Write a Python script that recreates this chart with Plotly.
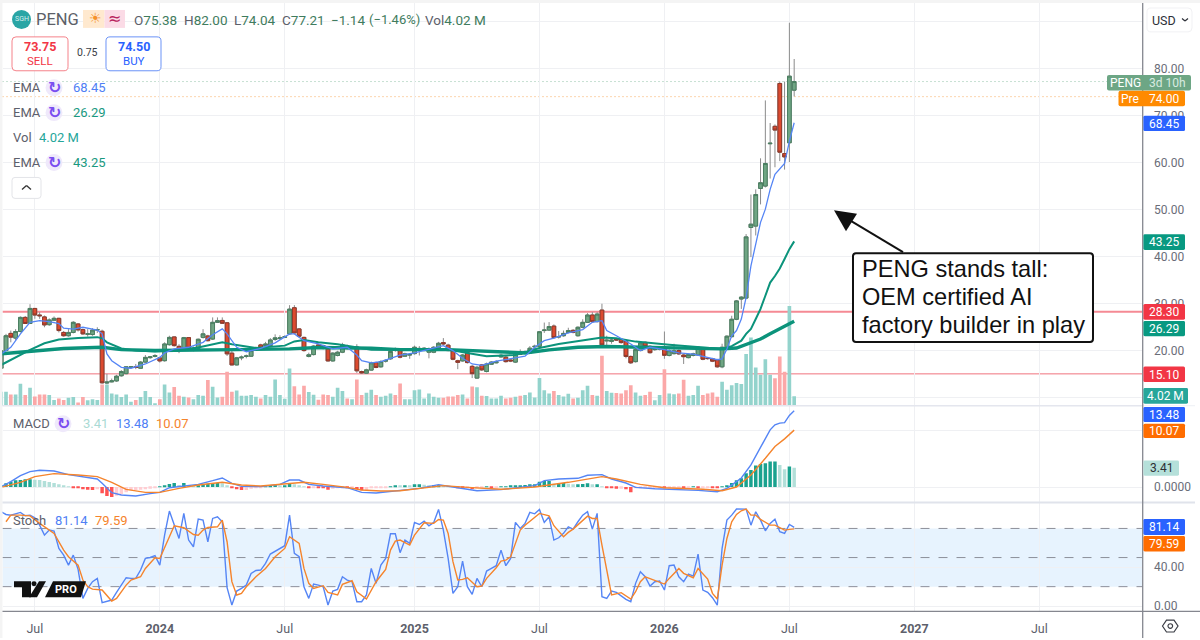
import pandas as pd
import plotly.graph_objects as go

# Weekly candles for PENG, oldest first.
OPEN = [16.3, 20.05, 23.7, 22.7, 24.1, 27.1, 25.8, 29.0, 27.6, 27.2,
        25.55, 26.5, 26.9, 23.9, 23.2, 23.9, 25.7, 24.5, 23.5, 23.45,
        24.4, 24.15, 13.15, 13.4, 13.6, 14.7, 15.15, 16.45, 16.6, 16.3,
        17.6, 18.55, 18.8, 18.5, 17.9, 21.3, 22.95, 20.95, 20.25, 22.8,
        20.25, 20.55, 22.85, 23.15, 22.5, 26.05, 26.45, 25.95, 19.5, 17.0,
        18.5, 18.8, 18.85, 20.5, 21.25, 21.1, 21.1, 22.4, 22.6, 22.85,
        23.6, 29.15, 24.65, 22.85, 18.8, 19.2, 21.25, 21.1, 20.4, 17.85,
        19.0, 19.7, 20.95, 20.7, 20.8, 15.6, 15.25, 15.9, 17.5, 16.6,
        17.8, 18.3, 20.2, 20.05, 18.85, 19.1, 19.4, 20.35, 20.1, 19.7,
        19.7, 20.6, 21.75, 21.2, 20.05, 17.9, 17.85, 19.6, 16.7, 14.2,
        17.0, 15.6, 17.15, 17.45, 18.7, 18.65, 18.05, 17.6, 19.85, 19.7,
        19.55, 20.85, 20.95, 24.3, 24.4, 25.25, 22.95, 23.2, 23.9, 24.35,
        23.2, 25.0, 26.05, 27.6, 26.2, 28.65, 22.1, 22.0, 22.5, 22.4,
        22.0, 18.8, 17.7, 20.05, 21.8, 20.95, 20.25, 20.35, 20.55, 19.0,
        19.4, 20.05, 19.1, 18.55, 19.0, 19.1, 20.4, 18.4, 18.3, 18.05,
        16.6, 20.6, 23.0, 26.7, 31.0, 31.2, 46.2, 46.5, 54.5, 55.0,
        64.0, 67.7, 76.8, 61.9, 64.2, 75.38]
HIGH = [20.4, 23.6, 24.3, 24.6, 27.3, 27.4, 29.9, 29.1, 28.2, 27.5,
        26.9, 27.3, 27.0, 24.2, 24.6, 26.3, 25.9, 24.7, 24.6, 24.8,
        25.0, 24.5, 15.1, 14.1, 14.9, 15.9, 16.7, 16.7, 17.2, 17.8,
        19.1, 18.9, 19.3, 18.7, 21.8, 23.2, 23.0, 21.4, 22.95, 22.9,
        20.9, 22.6, 24.6, 23.4, 27.1, 27.1, 27.1, 26.1, 20.0, 18.7,
        19.0, 19.2, 20.3, 20.9, 21.5, 21.9, 22.7, 23.5, 23.3, 23.3,
        29.7, 29.7, 24.8, 23.0, 19.6, 21.2, 21.5, 21.3, 20.6, 19.7,
        20.0, 21.7, 21.3, 21.0, 21.4, 15.8, 16.2, 17.7, 17.7, 18.0,
        18.2, 20.2, 20.7, 20.2, 19.6, 19.5, 21.1, 21.0, 20.8, 20.7,
        21.0, 21.9, 22.7, 21.5, 20.2, 18.1, 19.3, 19.8, 17.0, 16.8,
        17.2, 17.5, 17.8, 18.0, 19.4, 18.9, 18.2, 19.8, 20.3, 20.1,
        21.0, 21.3, 24.2, 26.0, 26.1, 25.6, 24.2, 24.3, 24.9, 24.6,
        25.2, 26.7, 28.0, 28.2, 28.2, 30.0, 23.2, 22.6, 22.7, 22.6,
        22.2, 19.0, 20.5, 21.9, 22.0, 21.2, 20.6, 20.7, 24.1, 20.3,
        21.5, 20.3, 19.3, 19.4, 19.6, 21.0, 20.6, 18.6, 18.5, 18.3,
        21.5, 23.3, 27.45, 30.8, 31.6, 44.8, 53.2, 54.3, 60.9, 73.2,
        68.4, 68.1, 77.2, 77.2, 89.7, 82.0]
LOW = [15.9, 19.9, 21.8, 22.2, 23.9, 25.7, 25.7, 26.8, 26.8, 25.0,
       25.3, 26.3, 23.9, 23.0, 23.0, 23.7, 24.1, 23.4, 23.0, 23.2,
       23.8, 13.0, 12.9, 13.3, 13.4, 14.5, 15.0, 16.3, 16.1, 16.2,
       17.4, 18.3, 18.6, 17.5, 17.7, 21.1, 20.9, 19.5, 20.0, 20.3,
       19.9, 20.3, 22.6, 22.0, 22.3, 25.9, 25.7, 18.9, 16.9, 16.9,
       18.0, 18.4, 18.7, 20.0, 20.3, 20.7, 20.8, 22.1, 22.3, 22.7,
       23.4, 23.6, 22.8, 19.8, 18.6, 19.0, 20.7, 20.3, 17.7, 17.7,
       18.8, 19.5, 20.3, 20.5, 15.3, 15.1, 15.1, 15.8, 16.3, 16.4,
       17.5, 18.1, 19.8, 18.4, 18.7, 18.3, 19.2, 19.0, 19.9, 18.4,
       19.5, 20.4, 21.2, 19.9, 18.0, 16.1, 17.7, 17.3, 14.2, 14.1,
       15.7, 15.4, 17.0, 17.3, 18.5, 17.5, 17.6, 17.4, 19.1, 19.5,
       19.4, 20.3, 20.8, 23.8, 24.2, 22.6, 22.6, 23.0, 23.7, 23.7,
       23.0, 24.8, 25.9, 26.0, 26.0, 21.0, 21.1, 21.5, 22.1, 21.5,
       18.4, 17.2, 17.5, 19.9, 20.7, 19.4, 20.0, 20.1, 18.3, 18.8,
       19.2, 19.1, 17.2, 18.4, 18.8, 19.0, 18.0, 18.1, 17.6, 16.4,
       16.3, 20.4, 22.8, 26.5, 28.9, 31.0, 39.9, 44.5, 51.1, 54.7,
       56.6, 59.0, 60.3, 58.5, 60.1, 74.04]
CLOSE = [20.05, 23.2, 22.9, 24.1, 27.1, 25.8, 29.0, 27.6, 27.45, 25.5,
         26.55, 26.9, 24.3, 23.2, 23.9, 26.05, 24.45, 23.6, 23.6, 24.4,
         24.5, 13.2, 13.35, 13.6, 14.6, 15.6, 16.6, 16.6, 16.45, 17.6,
         18.6, 18.7, 19.0, 17.85, 21.45, 22.85, 21.1, 20.1, 22.8, 20.55,
         20.55, 22.45, 23.6, 22.15, 26.05, 26.4, 25.85, 19.35, 17.0, 18.5,
         18.65, 18.9, 20.05, 20.6, 20.55, 21.45, 22.3, 22.75, 22.75, 23.0,
         28.85, 23.8, 23.1, 20.05, 19.15, 21.0, 20.9, 20.55, 17.85, 19.5,
         19.7, 21.25, 20.55, 20.8, 15.75, 15.3, 15.95, 17.45, 16.45, 17.7,
         17.95, 19.85, 20.1, 18.65, 19.35, 19.2, 20.75, 20.5, 20.55, 20.4,
         20.75, 21.6, 21.45, 20.05, 18.2, 17.55, 19.1, 17.5, 15.15, 16.5,
         15.95, 17.2, 17.6, 17.7, 19.05, 17.7, 17.85, 19.55, 19.25, 19.8,
         20.55, 20.95, 24.05, 24.4, 25.15, 22.8, 23.0, 23.7, 24.3, 23.9,
         25.0, 26.05, 27.6, 26.2, 27.8, 21.25, 22.25, 22.3, 22.3, 21.75,
         18.8, 17.45, 20.25, 21.65, 20.9, 19.6, 20.4, 20.45, 19.05, 20.0,
         20.0, 19.35, 18.75, 19.2, 19.35, 20.75, 18.2, 18.35, 17.8, 16.6,
         20.75, 23.1, 26.7, 30.6, 31.4, 44.2, 46.9, 53.2, 55.7, 59.8,
         64.1, 66.9, 62.2, 61.2, 78.35, 77.21]
# Weekly share volume, in millions.
VOLUME = [5.9, 5.9, 4.8, 4.8, 9.3, 4.5, 7.6, 3.9, 4.8, 4.8,
          4.5, 2.4, 3.1, 2.4, 3.4, 3.7, 1.4, 3.7, 2.3, 2.8,
          2.4, 9.0, 9.0, 5.2, 4.8, 3.7, 4.8, 1.7, 2.4, 3.7,
          6.2, 3.7, 1.0, 2.8, 9.0, 5.6, 7.9, 4.2, 3.8, 3.5,
          2.8, 4.5, 4.2, 10.9, 8.0, 3.5, 3.8, 14.4, 5.9, 6.5,
          4.2, 4.2, 4.5, 3.8, 3.1, 4.5, 3.8, 11.1, 4.5, 3.0,
          15.8, 8.3, 4.8, 8.5, 5.8, 4.7, 2.5, 4.8, 4.5, 3.8,
          7.6, 6.2, 3.1, 2.8, 11.1, 4.5, 5.5, 6.8, 4.5, 3.8,
          4.2, 5.2, 4.5, 9.4, 2.8, 2.8, 6.6, 6.9, 3.1, 5.2,
          3.8, 3.4, 3.4, 3.9, 3.9, 4.5, 4.8, 3.1, 8.2, 7.8,
          4.2, 4.1, 3.1, 3.1, 4.2, 3.1, 3.4, 3.8, 4.2, 4.5,
          5.6, 3.5, 11.8, 6.6, 5.2, 6.3, 4.5, 3.9, 5.1, 3.1,
          3.4, 6.6, 8.5, 4.5, 4.2, 21.2, 6.3, 5.5, 5.4, 5.2,
          6.6, 8.7, 5.6, 4.2, 4.5, 5.9, 2.3, 4.5, 15.5, 5.2,
          4.9, 5.2, 11.0, 4.2, 4.5, 8.5, 4.5, 5.2, 5.6, 3.8,
          10.2, 6.8, 8.7, 9.6, 9.2, 21.9, 28.9, 16.2, 13.1, 19.7,
          13.1, 11.7, 20.9, 14.4, 42.3, 4.02]
# MACD histogram per week.
MACD_HIST = [0.36, 0.65, 0.95, 1.18, 1.24, 1.36, 1.36, 1.30, 1.24, 1.07,
             0.89, 0.71, 0.47, 0.24, 0.12, -0.18, -0.24, -0.41, -0.47, -0.53,
             -0.41, -1.12, -1.60, -1.78, -1.54, -1.30, -0.95, -0.59, -0.53, -0.47,
             -0.41, -0.30, -0.18, 0.03, 0.18, 0.53, 0.71, 0.36, 0.71, 0.36,
             0.24, 0.30, 0.36, 0.59, 0.71, 0.71, 0.65, 0.24, -0.24, -0.41,
             -0.53, -0.53, -0.30, -0.24, -0.12, 0.03, 0.24, 0.36, 0.24, 0.30,
             0.65, 0.47, 0.24, 0.12, -0.12, -0.12, -0.18, -0.24, -0.47, -0.30,
             -0.24, -0.06, -0.12, -0.12, -0.41, -0.59, -0.47, -0.24, -0.24, -0.12,
             -0.06, 0.12, 0.30, 0.24, 0.24, 0.18, 0.47, 0.47, 0.41, 0.24,
             0.24, 0.30, 0.18, 0.12, 0.03, -0.12, -0.24, -0.24, -0.36, -0.24,
             -0.12, 0.03, -0.12, -0.12, 0.12, 0.12, 0.18, 0.30, 0.30, 0.36,
             0.47, 0.47, 0.95, 1.07, 1.07, 0.59, 0.65, 0.71, 0.59, 0.47,
             0.47, 0.53, 0.65, 0.47, 0.47, 0.03, -0.12, -0.24, -0.30, -0.30,
             -0.41, -0.95, -0.24, -0.12, -0.06, -0.06, -0.06, -0.06, -0.24, -0.06,
             -0.06, -0.06, -0.18, -0.06, 0.03, -0.12, -0.06, -0.06, -0.12, -0.24,
             0.03, 0.30, 0.71, 1.18, 1.54, 2.43, 3.02, 3.79, 4.09, 4.20,
             4.50, 4.50, 3.91, 3.14, 3.61, 3.41]
# Stochastic %K per week.
STOCH_K = [97.2, 94.4, 93.7, 95.5, 96.5, 93.1, 93.7, 91.0, 83.4, 73.1,
           78.3, 77.2, 59.4, 52.5, 42.2, 52.5, 37.8, 7.9, 18.2, 25.1,
           28.5, 3.5, 5.2, 6.2, 14.1, 21.0, 29.2, 28.5, 28.5, 37.1,
           49.1, 50.1, 51.9, 42.2, 73.1, 97.9, 83.4, 69.7, 95.5, 68.0,
           61.1, 89.6, 88.6, 66.3, 90.3, 92.0, 86.9, 18.9, 1.0, 15.5,
           18.2, 21.6, 33.6, 36.7, 37.1, 44.0, 53.6, 56.7, 59.4, 62.2,
           93.7, 54.3, 50.8, 19.9, 7.9, 22.7, 21.6, 19.9, 1.0, 15.5,
           17.2, 30.2, 26.8, 25.1, 4.5, 4.5, 11.4, 38.8, 23.4, 42.2,
           49.1, 74.5, 74.5, 55.0, 68.0, 64.6, 86.2, 84.1, 87.6, 82.8,
           86.2, 99.6, 78.3, 49.1, 13.1, 19.9, 46.4, 19.9, 12.0, 28.5,
           19.9, 36.1, 38.8, 41.6, 57.7, 41.6, 49.1, 86.2, 80.0, 85.2,
           96.5, 95.1, 99.6, 86.2, 92.0, 68.0, 70.4, 74.9, 81.7, 79.3,
           86.9, 93.7, 97.2, 79.3, 95.5, 9.6, 7.9, 15.5, 14.1, 10.7,
           6.9, 4.5, 23.4, 35.4, 30.2, 20.6, 25.1, 25.8, 16.5, 41.6,
           42.2, 30.2, 25.1, 33.0, 30.9, 53.6, 16.5, 14.1, 8.6, 1.0,
           59.4, 88.6, 93.7, 100.0, 100.0, 99.9, 83.4, 97.2, 88.6, 77.6,
           85.2, 89.6, 76.6, 74.9, 84.1, 81.14]

# Smooth studies are stored at selected bars; -1 is the clipped first bar.
EMA_FAST_BARS = [-1, 1, 3, 5, 7, 9, 11, 12, 14, 16, 18, 19, 20, 21, 22, 24, 26, 29, 32, 33,
                 35, 38, 41, 43, 45, 46, 48, 50, 53, 56, 59, 60, 62, 65, 68, 71, 73, 74, 76, 78,
                 80, 82, 85, 88, 91, 93, 95, 97, 99, 102, 105, 108, 110, 112, 114, 117, 120, 122, 124, 125,
                 127, 130, 132, 134, 137, 140, 143, 146, 148, 149, 150, 151, 152, 153, 154, 155, 156, 157, 158, 159,
                 160, 161, 162, 163, 164]
EMA_FAST = [19.34, 20.75, 23.58, 26.05, 26.4, 26.2, 25.8, 24.8, 24.6, 25.0, 24.6, 24.4, 23.6, 19.35, 17.9, 16.5, 16.3, 17.2, 18.6, 19.55,
            20.4, 20.75, 21.8, 23.4, 24.65, 23.6, 20.75, 19.8, 20.5, 21.7, 23.6, 23.6, 22.15, 21.45, 20.4, 20.75, 19.1, 17.9, 17.45, 17.7,
            18.4, 19.1, 19.55, 20.25, 21.1, 20.05, 18.4, 17.2, 16.9, 17.8, 18.4, 18.85, 20.75, 22.15, 22.7, 23.8, 24.5, 26.05, 26.4, 24.3,
            23.2, 21.45, 20.05, 20.75, 20.25, 19.55, 19.3, 18.65, 18.1, 18.3, 20.4, 23.2, 24.3, 26.75, 31.35, 38.05, 43.05, 47.3, 50.1, 54.3,
            57.5, 58.7, 59.8, 64.5, 68.45]
EMA_MID_BARS = [-1, 2, 5, 8, 11, 15, 19, 20, 21, 24, 27, 31, 35, 40, 45, 47, 52, 58, 60, 62,
                65, 69, 73, 76, 81, 86, 92, 96, 100, 106, 111, 115, 120, 124, 127, 131, 138, 145, 149, 151,
                152, 153, 154, 155, 156, 157, 158, 159, 160, 161, 162, 163, 164]
EMA_MID = [17.0, 18.6, 20.2, 21.6, 22.4, 22.7, 22.9, 22.65, 21.8, 20.5, 20.05, 19.85, 20.05, 20.7, 21.8, 21.4, 20.6, 21.1, 22.0, 22.3,
           21.8, 21.4, 20.75, 20.25, 20.25, 20.25, 20.25, 19.55, 18.85, 19.1, 20.6, 21.45, 22.3, 22.85, 22.65, 21.95, 21.3, 20.75, 20.4, 21.0,
           21.6, 22.15, 23.6, 24.65, 26.75, 28.9, 31.7, 34.5, 35.9, 37.5, 39.5, 41.6, 43.25]
EMA_SLOW_BARS = [-1, 5, 12, 20, 24, 31, 41, 48, 59, 65, 76, 82, 92, 103, 108, 113, 119, 125, 131, 138,
                 145, 149, 152, 155, 157, 159, 161, 163, 164]
EMA_SLOW = [19.35, 19.85, 20.5, 20.75, 20.25, 20.05, 20.25, 20.25, 20.4, 20.7, 20.55, 20.25, 20.25, 19.85, 19.55, 20.2, 20.75, 20.9, 20.75, 20.6,
            20.55, 20.4, 20.6, 21.65, 22.5, 23.6, 24.65, 25.9, 26.29]
MACD_LINE_BARS = [-1, 1, 3, 5, 7, 10, 13, 15, 19, 20, 22, 24, 27, 30, 32, 34, 37, 40, 43, 45,
                  47, 49, 53, 57, 59, 61, 63, 66, 71, 74, 77, 80, 82, 86, 90, 93, 98, 103, 110, 112,
                  115, 119, 121, 124, 126, 129, 131, 135, 138, 144, 148, 150, 152, 153, 155, 157, 158, 159, 160, 161,
                  162, 163, 164]
MACD_LINE = [0.06, 0.95, 2.01, 2.72, 2.96, 2.84, 2.19, 1.95, 1.42, 0.65, -1.01, -1.42, -1.60, -1.18, -0.95, -0.12, 0.24, 0.47, 1.12, 1.60,
             0.65, 0.12, 0.06, 0.47, 1.24, 1.24, 0.47, 0.18, -0.12, -0.95, -1.07, -0.83, -0.65, -0.24, 0.41, 0.0, -0.65, -0.47, 0.24, 1.12,
             1.42, 1.54, 2.07, 2.19, 1.42, 0.71, -0.06, -0.30, -0.36, -0.59, -0.83, -0.24, 0.95, 1.60, 3.91, 6.93, 8.64, 10.12, 11.0, 11.3,
             11.4, 12.67, 13.48]
MACD_SIGNAL_BARS = [-1, 3, 6, 10, 15, 19, 22, 25, 29, 32, 36, 40, 45, 49, 53, 58, 62, 66, 71, 74,
                    78, 82, 86, 91, 96, 103, 110, 117, 124, 127, 132, 137, 145, 149, 152, 155, 158, 160, 162, 164]
MACD_SIGNAL = [-0.06, 0.83, 1.84, 2.37, 2.13, 1.84, 0.83, -0.41, -0.95, -0.95, -0.24, 0.36, 0.83, 0.36, 0.18, 0.53, 0.83, 0.47, -0.06, -0.53,
               -0.71, -0.65, -0.30, 0.24, -0.06, -0.41, 0.0, 0.83, 1.84, 1.42, 0.47, -0.12, -0.41, -0.65, 0.0, 2.13, 5.09, 7.16, 8.52, 10.07]
STOCH_D_BARS = [0, 1, 3, 5, 7, 10, 12, 13, 15, 16, 17, 18, 20, 21, 22, 23, 24, 25, 26, 28,
                29, 31, 32, 33, 34, 35, 37, 39, 40, 41, 42, 44, 45, 46, 47, 48, 49, 50, 52, 54,
                56, 58, 59, 61, 62, 63, 64, 66, 67, 69, 70, 72, 73, 75, 76, 77, 79, 80, 81, 82,
                84, 85, 87, 89, 90, 91, 92, 93, 94, 95, 96, 98, 99, 100, 102, 103, 104, 105, 106, 107,
                108, 110, 111, 113, 114, 116, 117, 118, 120, 121, 122, 123, 124, 125, 126, 128, 130, 131, 132, 133,
                135, 137, 138, 140, 141, 143, 144, 146, 147, 148, 149, 150, 151, 152, 153, 154, 155, 156, 157, 159,
                160, 162, 163, 164]
STOCH_D = [86.9, 93.7, 93.7, 93.0, 85.2, 74.9, 57.7, 50.8, 42.2, 26.8, 19.9, 17.5, 16.5, 11.4, 5.2, 7.9, 14.8, 21.6, 26.8, 30.2,
           38.8, 49.8, 49.1, 59.4, 71.4, 82.8, 80.7, 73.8, 73.1, 78.3, 81.0, 81.7, 88.6, 66.3, 25.1, 11.4, 13.1, 19.9, 30.2, 38.8,
           50.8, 59.4, 71.4, 64.6, 38.8, 23.4, 18.2, 21.0, 14.1, 11.4, 22.3, 26.1, 14.8, 7.2, 16.5, 25.1, 37.8, 57.7, 67.0, 68.0,
           62.8, 73.1, 85.8, 85.2, 89.3, 88.6, 74.9, 45.7, 26.8, 27.5, 29.2, 19.9, 20.6, 28.5, 39.5, 46.4, 47.4, 50.8, 64.6, 78.3,
           83.4, 92.0, 95.5, 93.1, 82.8, 71.4, 75.9, 79.3, 88.6, 92.7, 90.3, 90.3, 62.8, 38.8, 11.4, 13.8, 7.2, 14.8, 25.1, 30.2,
           26.1, 22.7, 28.5, 38.8, 33.7, 29.2, 38.8, 27.8, 13.1, 7.2, 42.2, 69.7, 86.9, 94.4, 98.2, 99.9, 93.7, 93.7, 89.3, 83.4,
           83.4, 78.3, 79.0, 79.59]

RESISTANCE = 28.30
SUPPORT = 15.10
LAST_PRICE = 77.21
PRE_PRICE = 74.00

X_TICK_DATES = ["2023-07-03", "2024-01-01", "2024-07-01", "2025-01-06", "2025-07-07",
                "2026-01-05", "2026-07-06", "2027-01-04", "2027-07-05"]
X_TICK_LABELS = ["Jul", "<b>2024</b>", "Jul", "<b>2025</b>", "Jul", "<b>2026</b>", "Jul", "<b>2027</b>", "Jul"]

WIDTH, HEIGHT = 1200, 640
PLOT_L, PLOT_R = 2.5, 1142.7
TEXT_GREY = "#5d606b"
VALUE_GREEN = "#3f7c5e"
BLUE = "#5585f5"
ORANGE = "#f5842c"
EMA_GREEN = "#0b937b"
UI_FONT = "Roboto"


def px(x):
    return x / WIDTH


def py(y):
    return 1 - y / HEIGHT


weeks = pd.date_range(end="2026-07-13", periods=len(CLOSE), freq="7D")


def at(bars):
    return [weeks[b + 1] for b in bars]


px_per_day = 4.806 / 7
first_full_bar = weeks[1]
x_start = first_full_bar - pd.Timedelta(days=(6 - PLOT_L) / px_per_day)
x_end = first_full_bar + pd.Timedelta(days=(PLOT_R - 6) / px_per_day)

body_up = [o <= c for o, c in zip(OPEN, CLOSE)]
vol_colors = ["#93d3cc" if up else "#fba8a8" for up in body_up]
hist_colors = []
for i, v in enumerate(MACD_HIST):
    rising = i == 0 or v >= MACD_HIST[i - 1]
    if v >= 0:
        hist_colors.append("#1aa28f" if rising else "#b2dfd9")
    else:
        hist_colors.append("#ffcdd2" if rising else "#ff5252")

fig = go.Figure()

# Volume sits underneath the price axis
fig.add_trace(go.Bar(x=weeks, y=VOLUME, marker=dict(color=vol_colors, line_width=0),
                     width=0.76 * 7 * 86400000, yaxis="y", xaxis="x"))
# Grey wicks, then outlined bodies on top
fig.add_trace(go.Candlestick(x=weeks, open=OPEN, high=HIGH, low=LOW, close=CLOSE,
                             increasing=dict(line=dict(color="#8b8b8b", width=1), fillcolor="#8b8b8b"),
                             decreasing=dict(line=dict(color="#8b8b8b", width=1), fillcolor="#8b8b8b"),
                             yaxis="y2", xaxis="x"))
fig.add_trace(go.Candlestick(x=weeks, open=OPEN, close=CLOSE,
                             high=[max(o, c) for o, c in zip(OPEN, CLOSE)],
                             low=[min(o, c) for o, c in zip(OPEN, CLOSE)],
                             increasing=dict(line=dict(color="#4a7f61", width=1), fillcolor="#6fa583"),
                             decreasing=dict(line=dict(color="#8e3a2c", width=1), fillcolor="#dc4a2f"),
                             yaxis="y2", xaxis="x"))
fig.add_trace(go.Scatter(x=at(EMA_SLOW_BARS), y=EMA_SLOW, mode="lines", yaxis="y2", xaxis="x",
                         line=dict(color=EMA_GREEN, width=3.4)))
fig.add_trace(go.Scatter(x=at(EMA_MID_BARS), y=EMA_MID, mode="lines", yaxis="y2", xaxis="x",
                         line=dict(color=EMA_GREEN, width=2)))
fig.add_trace(go.Scatter(x=at(EMA_FAST_BARS), y=EMA_FAST, mode="lines", yaxis="y2", xaxis="x",
                         line=dict(color=BLUE, width=1.3)))

# MACD pane
fig.add_trace(go.Bar(x=weeks, y=MACD_HIST, marker=dict(color=hist_colors, line_width=0),
                     width=0.72 * 7 * 86400000, yaxis="y3", xaxis="x"))
fig.add_trace(go.Scatter(x=at(MACD_LINE_BARS), y=MACD_LINE, mode="lines", yaxis="y3", xaxis="x",
                         line=dict(color=BLUE, width=1.4)))
fig.add_trace(go.Scatter(x=at(MACD_SIGNAL_BARS), y=MACD_SIGNAL, mode="lines", yaxis="y3", xaxis="x",
                         line=dict(color=ORANGE, width=1.4)))

# Stochastic pane
fig.add_trace(go.Scatter(x=weeks, y=STOCH_K, mode="lines", yaxis="y4", xaxis="x",
                         line=dict(color=BLUE, width=1.4)))
fig.add_trace(go.Scatter(x=at(STOCH_D_BARS), y=STOCH_D, mode="lines", yaxis="y4", xaxis="x",
                         line=dict(color=ORANGE, width=1.4)))

shapes = []
annotations = []


def rect(x0, y0, x1, y1, fill, line=None, radius=0, width=1, layer="above"):
    """Rounded rectangle given in page pixels."""
    r = radius
    xs = lambda v: f"{px(v):.5f}"
    ys = lambda v: f"{py(v):.5f}"
    if r:
        path = (f"M {xs(x0 + r)} {ys(y0)} L {xs(x1 - r)} {ys(y0)} Q {xs(x1)} {ys(y0)} {xs(x1)} {ys(y0 + r)} "
                f"L {xs(x1)} {ys(y1 - r)} Q {xs(x1)} {ys(y1)} {xs(x1 - r)} {ys(y1)} "
                f"L {xs(x0 + r)} {ys(y1)} Q {xs(x0)} {ys(y1)} {xs(x0)} {ys(y1 - r)} "
                f"L {xs(x0)} {ys(y0 + r)} Q {xs(x0)} {ys(y0)} {xs(x0 + r)} {ys(y0)} Z")
    else:
        path = f"M {xs(x0)} {ys(y0)} L {xs(x1)} {ys(y0)} L {xs(x1)} {ys(y1)} L {xs(x0)} {ys(y1)} Z"
    shapes.append(dict(type="path", path=path, xref="paper", yref="paper", fillcolor=fill, layer=layer,
                       line=dict(color=line or "rgba(0,0,0,0)", width=width if line else 0)))


def poly(points, fill, line=None, width=1):
    """Filled polygon given in page pixels."""
    path = "M " + " L ".join(f"{px(x):.5f} {py(y):.5f}" for x, y in points) + " Z"
    shapes.append(dict(type="path", path=path, xref="paper", yref="paper", fillcolor=fill,
                       line=dict(color=line or "rgba(0,0,0,0)", width=width if line else 0)))


def seg(x0, y0, x1, y1, color, width=1, dash="solid"):
    shapes.append(dict(type="line", xref="paper", yref="paper", x0=px(x0), y0=py(y0), x1=px(x1), y1=py(y1),
                       line=dict(color=color, width=width, dash=dash)))


def label(text, x, y, color=TEXT_GREY, size=13, anchor="left", family=UI_FONT):
    annotations.append(dict(text=text, x=px(x), y=py(y), xref="paper", yref="paper", showarrow=False,
                            xanchor=anchor, yanchor="middle", align=anchor,
                            font=dict(family=family, size=size, color=color), borderpad=0))


def refresh_icon(x, y):
    shapes.append(dict(type="circle", xref="paper", yref="paper", x0=px(x - 8.5), x1=px(x + 8.5), y0=py(y - 8.5), y1=py(y + 8.5),
                       fillcolor="#efe9fb", line_width=0))
    label("<b>↻</b>", x, y, "#7a4df0", 16, "center", "DejaVu Sans")


# Level lines and pane decoration tied to price axes
for level, color, w, dash in [(RESISTANCE, "#f58a94", 2, "solid"), (SUPPORT, "#f0737d", 1, "solid"),
                              (LAST_PRICE, "#8fc2a6", 1, "1px,3px"), (PRE_PRICE, "#f7ac5e", 1, "1px,3px")]:
    shapes.append(dict(type="line", xref="paper", yref="y2", x0=px(PLOT_L), x1=px(PLOT_R), y0=level, y1=level,
                       line=dict(color=color, width=w, dash=dash), layer="below"))
shapes.append(dict(type="rect", xref="paper", yref="y4", x0=px(PLOT_L), x1=px(PLOT_R), y0=20, y1=80,
                   fillcolor="rgba(33,150,243,0.11)", line_width=0, layer="below"))
for level in (20, 50, 80):
    shapes.append(dict(type="line", xref="paper", yref="y4", x0=px(PLOT_L), x1=px(PLOT_R), y0=level, y1=level,
                       line=dict(color="#8c8f9a", width=1, dash="dash"), layer="below"))

# Frame: page edge, pane separators, scale and time axis lines
rect(0, 0, 1200, 3, "#f4f4f4", layer="below")
rect(0, 0, PLOT_L, 640, "#f4f4f4", layer="below")
seg(PLOT_L, 407, PLOT_R, 407, "#e4e6ee", 1.5)
seg(PLOT_L, 504, PLOT_R, 504, "#e0e3eb", 2)
seg(1142.7, 407, 1195, 407, "#eef0f5", 1)
seg(1142.7, 504, 1195, 504, "#e0e3eb", 2)
seg(PLOT_L, 613.3, 1200, 613.3, "#85878f", 1.3)
seg(1142.7, 3, 1142.7, 640, "#85878f", 1.3)

# Header row
shapes.append(dict(type="circle", xref="paper", yref="paper", x0=px(12), x1=px(31), y0=py(10), y1=py(29),
                   fillcolor="#2aa5a5", line_width=0))
label("SGH", 21.5, 19.5, "#d8f0ee", 7, "center")
label("PENG", 35, 20, "#5c5f68", 16.5)
rect(83, 10, 104.5, 28, "#ffe9cf")
rect(104.5, 10, 125, 28, "#fbdbe6")
label("☀", 95, 18.5, "#f5922a", 14, "center", "DejaVu Sans")
label("≈", 114, 18.5, "#b8235e", 16, "center", "DejaVu Sans")
for head, val, x in [("O", "75.38", 133), ("H", "82.00", 183), ("L", "74.04", 233), ("C", "77.21", 281)]:
    label(f'<span style="color:{TEXT_GREY}">{head}</span>{val}', x, 20, VALUE_GREEN, 13.5)
label("−1.14", 330, 20, VALUE_GREEN, 13.5)
label("(−1.46%)", 368, 20, VALUE_GREEN, 13)
label(f'<span style="color:{TEXT_GREY}">Vol</span>4.02 M', 424, 20, VALUE_GREEN, 13.5)

# Bid and ask boxes
rect(12, 37, 68, 71, "#ffffff", "#f5828a", radius=4)
rect(106, 37, 161, 71, "#ffffff", "#6b93f7", radius=4)
label("<b>73.75</b>", 40, 46.5, "#f23645", 12.5, "center")
label("SELL", 40, 61, "#f23645", 11.5, "center")
label("0.75", 87, 53, "#3a3d45", 10.5, "center")
label("<b>74.50</b>", 133.5, 46.5, "#2962ff", 12.5, "center")
label("BUY", 133.5, 61, "#2962ff", 11.5, "center")

# Study legend rows
for y, val, col in [(88, "68.45", "#4f80f5"), (113, "26.29", "#19997f"), (163, "43.25", "#19997f")]:
    label("EMA", 12, y, TEXT_GREY, 13)
    refresh_icon(54, y)
    label(val, 72, y, col, 13)
label("Vol", 12, 138, TEXT_GREY, 13)
label("4.02 M", 38, 138, "#26a69a", 13)
rect(12, 178, 41, 199, "#ffffff", "#e3e4e8", radius=3)
seg(22, 190, 26.5, 186, "#333333", 1.3)
seg(26.5, 186, 31, 190, "#333333", 1.3)

label("MACD", 12, 425, TEXT_GREY, 13)
refresh_icon(63, 425)
label("3.41", 82, 425, "#a9dad4", 13)
label("13.48", 115, 425, "#4f80f5", 13)
label("10.07", 155, 425, ORANGE, 13)
label("Stoch", 12, 522, TEXT_GREY, 13)
label("81.14", 54, 522, "#4f80f5", 13)
label("79.59", 94, 522, ORANGE, 13)

# Vendor mark in the lower left of the stochastic pane
poly([(14, 583), (31, 583), (31, 599), (22, 599), (22, 589), (14, 589)], "#111111")
shapes.append(dict(type="circle", xref="paper", yref="paper", x0=px(31.5), x1=px(36.5), y0=py(583), y1=py(588),
                   fillcolor="#111111", line_width=0))
poly([(39, 583), (46, 583), (37, 599), (29, 599)], "#111111")
poly([(53, 583), (86, 583), (81, 599), (45, 599)], "#111111")
label("<b>PRO</b>", 65.5, 591, "#ffffff", 11, "center")

# Callout and its arrow
rect(853, 254, 1093, 343, "#ffffff", "#111111", radius=3, width=2)
for line_y, line_text in [(270, "PENG stands tall:"), (298, "OEM certified AI"), (326, "factory builder in play")]:
    label(line_text, 861, line_y, "#111111", 23.6, "left", "Liberation Sans")
seg(903, 253, 845, 218, "#111111", 2)
poly([(834, 211), (857, 214.5), (846, 232)], "#111111")

# Price tags on the right scale
rect(1107, 75.3, 1191, 90.7, "#6da685", radius=2)
label("PENG", 1125, 83.3, "#ffffff", 12, "center")
label("3d 10h", 1167, 83.3, "#d9ebe0", 12, "center")
rect(1118.5, 91, 1185, 106.7, "#ff8a00", radius=2)
label("Pre", 1130, 99, "#ffffff", 12, "center")
label("74.00", 1164, 99, "#ffffff", 12, "center")
for y0, y1, x1, fill, fg, txt in [
    (116, 131.3, 1185, "#2962ff", "#ffffff", "68.45"),
    (235, 250.7, 1185, "#089981", "#ffffff", "43.25"),
    (305, 320.7, 1185, "#f23645", "#ffffff", "28.30"),
    (322, 337.3, 1185, "#089981", "#ffffff", "26.29"),
    (367.7, 383.3, 1185, "#f23645", "#ffffff", "15.10"),
    (389.3, 405, 1188, "#26a69a", "#ffffff", "4.02 M"),
    (408.3, 423.3, 1185, "#2962ff", "#ffffff", "13.48"),
    (425, 439.3, 1185, "#ff6d00", "#ffffff", "10.07"),
    (462, 477.3, 1179, "#b5e0da", "#2c3036", "3.41"),
    (520.7, 536.7, 1185, "#2962ff", "#ffffff", "81.14"),
    (537.7, 553.3, 1185, "#ff6d00", "#ffffff", "79.59"),
]:
    rect(1143.4, y0, x1, y1, fill, radius=1.5)
    label(txt, (1143.4 + x1) / 2, (y0 + y1) / 2 + 0.3, fg, 12, "center")

# Currency selector and settings hexagon
rect(1147, 8, 1192, 32, "#ffffff", "#f1f1f4", radius=4)
label("USD", 1151, 20.5, "#2d3038", 12.5)
seg(1182, 18.5, 1185, 21, "#2d3038", 1.2)
seg(1185, 21, 1188, 18.5, "#2d3038", 1.2)
poly([(1162.5, 628), (1166.5, 622), (1174, 622), (1178, 628), (1174, 634), (1166.5, 634)], "rgba(0,0,0,0)", "#3a3d45", 1.2)
shapes.append(dict(type="circle", xref="paper", yref="paper", x0=px(1168), x1=px(1172.6), y0=py(625.7), y1=py(630.3),
                   fillcolor="rgba(0,0,0,0)", line=dict(color="#3a3d45", width=1.2)))

GRID = "#eff0f3"
TICK_FONT = dict(family=UI_FONT, size=12, color="#6a6d78")


def value_axis(domain, lo, hi, ticks, labels, **extra):
    return dict(domain=domain, range=[lo, hi], side="right", anchor="x", tickmode="array", tickvals=ticks, ticktext=labels,
                showgrid=True, gridcolor=GRID, gridwidth=1.3, zeroline=False, showline=False, ticks="outside",
                ticklen=8, tickcolor="rgba(0,0,0,0)", tickfont=TICK_FONT, **extra)


main_domain = [py(407), py(3)]
fig.update_layout(
    width=WIDTH, height=HEIGHT, margin=dict(l=0, r=0, t=0, b=0),
    paper_bgcolor="#ffffff", plot_bgcolor="#ffffff", showlegend=False,
    boxmode="overlay", boxgap=0.12, boxgroupgap=0.12, barmode="overlay", hovermode=False,
    xaxis=dict(domain=[px(PLOT_L), px(PLOT_R)], range=[x_start, x_end], anchor="y4", type="date",
               tickmode="array", tickvals=X_TICK_DATES, ticktext=X_TICK_LABELS, showgrid=True, gridcolor=GRID, gridwidth=1.3,
               ticks="outside", ticklen=6, tickcolor="rgba(0,0,0,0)", tickfont=dict(family=UI_FONT, size=12.5, color="#5d606b"),
               rangeslider=dict(visible=False), zeroline=False, showline=False),
    yaxis=dict(domain=main_domain, range=[0, 170.9], side="right", anchor="x", showgrid=False, showticklabels=False,
               zeroline=False, showline=False, ticks=""),
    yaxis2=value_axis(main_domain, 8.33, 93.9, [10, 20, 30, 40, 50, 60, 70, 80, 90],
                      ["", "20.00", "30.00", "40.00", "50.00", "60.00", "70.00", "80.00", ""], overlaying="y"),
    yaxis3=value_axis([py(504), py(407.5)], -2.73, 14.3, [0, 10], ["0.0000", ""]),
    yaxis4=value_axis([py(613.3), py(505)], -5.5, 105.8, [0, 40], ["0.00", "40.00"]),
    shapes=shapes, annotations=annotations,
)

fig.write_html("out.html")
